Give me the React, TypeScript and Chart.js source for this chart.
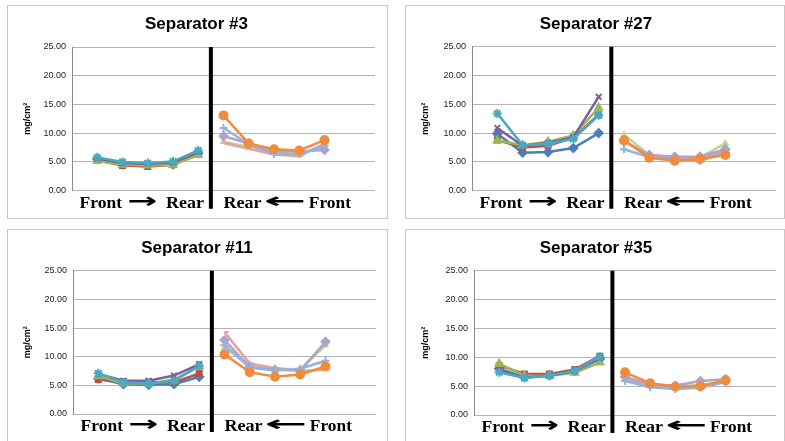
import React, { useEffect, useRef } from 'react';
import { Chart, registerables } from 'chart.js';

Chart.register(...registerables);

// ---- data ----
const POS_FRONT_TO_REAR = [1, 2, 3, 4, 5];
const POS_REAR_TO_FRONT = [6, 7, 8, 9, 10];
const Y_TICKS = [0, 5, 10, 15, 20, 25];
const Y_LABEL = 'mg/cm²';

// rows: blue diamond, red square, green triangle, purple x, aqua star
const SEP3_FRONT_TO_REAR = [
  [5.5, 4.6, 4.5, 4.6, 6.5],
  [5.3, 4.4, 4.2, 4.5, 6.4],
  [5.2, 4.5, 4.4, 4.5, 6.2],
  [5.6, 4.8, 4.7, 4.9, 6.8],
  [5.8, 5.0, 4.8, 5.1, 7.0],
];
// rows: orange circle, light-blue plus, lavender diamond, pink dash, light green
const SEP3_REAR_TO_FRONT = [
  [13.1, 8.2, 7.2, 7.0, 8.8],
  [10.9, 8.1, 6.4, 6.4, 7.8],
  [9.5, 8.2, 6.9, 6.8, 7.1],
  [8.3, 7.3, 6.3, 6.0, 8.2],
  [8.5, 7.6, 6.6, 6.4, 7.6],
];

const SEP27_FRONT_TO_REAR = [
  [9.9, 6.6, 6.7, 7.4, 10.0],
  [8.8, 7.5, 7.8, 9.2, 13.2],
  [8.7, 7.9, 8.5, 9.6, 14.4],
  [10.9, 7.8, 8.3, 9.3, 16.3],
  [13.4, 7.9, 8.1, 9.0, 13.1],
];
const SEP27_REAR_TO_FRONT = [
  [8.7, 5.7, 5.2, 5.5, 6.2],
  [7.2, 5.8, 5.4, 5.2, 6.6],
  [8.6, 6.2, 5.9, 5.9, 7.2],
  [8.8, 5.9, 5.6, 5.7, 6.8],
  [9.7, 6.2, 5.8, 5.8, 8.2],
];

const SEP11_FRONT_TO_REAR = [
  [6.2, 5.2, 5.1, 5.2, 6.5],
  [6.0, 5.6, 5.6, 5.5, 7.1],
  [6.6, 5.3, 5.3, 6.0, 8.3],
  [7.0, 5.8, 5.8, 6.7, 8.7],
  [7.1, 5.5, 5.3, 5.8, 8.4],
];
const SEP11_REAR_TO_FRONT = [
  [10.4, 7.3, 6.5, 6.9, 8.3],
  [12.0, 8.1, 7.6, 7.9, 9.3],
  [12.9, 8.2, 7.7, 7.6, 12.6],
  [14.3, 8.8, 8.0, 7.5, 7.7],
  [11.5, 8.7, 8.0, 7.7, 12.0],
];

const SEP35_FRONT_TO_REAR = [
  [8.0, 6.6, 6.9, 7.6, 9.7],
  [8.6, 7.1, 7.1, 7.9, 10.2],
  [8.9, 6.8, 6.8, 7.3, 9.1],
  [7.7, 6.5, 6.8, 7.6, 9.9],
  [7.4, 6.4, 6.8, 7.7, 10.1],
];
const SEP35_REAR_TO_FRONT = [
  [7.4, 5.5, 4.9, 5.0, 6.0],
  [5.9, 4.8, 4.5, 4.7, 5.7],
  [6.6, 5.3, 5.1, 5.9, 6.2],
  [6.2, 5.0, 4.8, 5.0, 5.9],
  [6.1, 5.2, 5.0, 5.2, 5.9],
];

// ---- styles ----
const SANS = "'Liberation Sans', Arial, Helvetica, sans-serif";
const SERIF = "'Liberation Serif', 'Times New Roman', serif";
const ARROW_FONT = "'DejaVu Sans', 'Liberation Sans', sans-serif";

const FRONT_STYLES = [
  { color: '#4A7EBB', style: 'rectRot', r: 4 },
  { color: '#BE4B48', style: 'rect', r: 3.5 },
  { color: '#98B954', style: 'triangle', r: 4 },
  { color: '#7D60A0', style: 'crossRot', r: 4 },
  { color: '#46AAC5', style: 'star', r: 4.5 },
];
const REAR_STYLES = [
  { color: '#F08C3E', style: 'circle', r: 4 },
  { color: '#93B2DD', style: 'cross', r: 4 },
  { color: '#B2A2CA', style: 'rectRot', r: 4 },
  { color: '#E3A3A1', style: 'dash', r: 4 },
  { color: '#BCD393', style: 'triangle', r: 2.5 },
];

type Box = { x: number; y: number; w: number; h: number };
type Plot = { l: number; r: number; t: number; b: number };

function makeDatasets(rows: number[][], pos: number[], styles: any[], aquaTop: boolean) {
  const order = aquaTop ? [4, 3, 2, 1, 0] : [0, 1, 2, 3, 4];
  return order.map((i) => {
    const st = styles[i];
    return {
      data: rows[i].map((v, k) => ({ x: pos[k], y: v })),
      borderColor: st.color,
      backgroundColor: st.color,
      borderWidth: 2.5,
      pointStyle: st.style,
      pointRadius: st.r,
      pointBorderWidth: 2,
      pointBackgroundColor: st.color,
      pointBorderColor: st.color,
      tension: 0,
    };
  });
}

const sideLabels = {
  id: 'sideLabels',
  afterDraw(chart: any) {
    const { ctx, chartArea } = chart;
    const xs = chart.scales.x;
    const px = (v: number) => xs.getPixelForValue(v);
    // thick divider
    ctx.save();
    ctx.strokeStyle = '#000';
    ctx.lineWidth = 4;
    ctx.beginPath();
    const dx = px(5.5);
    ctx.moveTo(dx, chartArea.top);
    ctx.lineTo(dx, chartArea.bottom + 18);
    ctx.stroke();
    ctx.restore();

    const base = chartArea.bottom + 17;
    const textFont = `bold 17px ${SERIF}`;
    const arrowFont = `bold 21px ${ARROW_FONT}`;
    const pieces: [string, number, number, number, string][] = [
      ['Front', 0.3, 2.0, 0, textFont],
      ['\u2192', 2.27, 3.35, 0, arrowFont],
      ['Rear', 3.72, 5.25, 0, textFont],
      ['Rear', 6.0, 7.53, 0, textFont],
      ['\u2190', 7.69, 9.22, 0, arrowFont],
      ['Front', 9.38, 11.06, 0, textFont],
    ];
    for (const [t, a, b, dy, f] of pieces) {
      const x0 = px(a);
      const x1 = px(b);
      ctx.save();
      ctx.font = f;
      ctx.fillStyle = '#000';
      ctx.textAlign = 'left';
      ctx.textBaseline = 'alphabetic';
      const m = ctx.measureText(t);
      const left = m.actualBoundingBoxLeft || 0;
      const w = (m.actualBoundingBoxRight || m.width) + left;
      ctx.translate(x0, base + dy);
      ctx.scale((x1 - x0) / w, 1);
      ctx.fillText(t, left, 0);
      ctx.restore();
    }
  },
};

function Panel({ title, box, plot, front, rear }: { title: string; box: Box; plot: Plot; front: number[][]; rear: number[][] }) {
  const ref = useRef<HTMLCanvasElement>(null);
  useEffect(() => {
    const cw = box.w - 2;
    const ch = box.h - 2;
    const ox = box.x + 1;
    const oy = box.y + 1;
    const left = plot.l - ox;
    const right = plot.r - ox;
    const top = plot.t - oy;
    const bottom = plot.b - oy;
    const padLeft = 10;
    const titlePadTop = 8;
    const titleSize = 17;
    const datasets = [
      ...makeDatasets(rear, POS_REAR_TO_FRONT, REAR_STYLES, false),
      ...makeDatasets(front, POS_FRONT_TO_REAR, FRONT_STYLES, true),
    ];
    const chart = new Chart(ref.current as HTMLCanvasElement, {
      type: 'line',
      data: { datasets } as any,
      options: {
        animation: false,
        responsive: false,
        maintainAspectRatio: false,
        devicePixelRatio: 1,
        layout: { padding: { left: padLeft, right: cw - right, top: 0, bottom: ch - bottom } },
        plugins: {
          legend: { display: false },
          tooltip: { enabled: false },
          title: {
            display: true,
            text: title,
            color: '#000',
            font: { size: titleSize, weight: 'bold', family: SANS, lineHeight: 1.2 },
            padding: { top: titlePadTop, bottom: top - titlePadTop - titleSize * 1.2 },
          },
        },
        scales: {
          x: { type: 'linear', min: 0, max: 12, display: false },
          y: {
            type: 'linear',
            min: 0,
            max: 25,
            afterFit: (s: any) => {
              s.width = left - padLeft;
            },
            afterBuildTicks: (s: any) => {
              s.ticks = Y_TICKS.map((v) => ({ value: v }));
            },
            ticks: {
              color: '#1a1a1a',
              font: { size: 9, family: SANS },
              padding: 6,
              callback: (v: any) => Number(v).toFixed(2),
            },
            grid: { color: '#b4b4b4', drawTicks: false, lineWidth: 1 },
            border: { display: true, color: '#8c8c8c', width: 1 },
            title: {
              display: true,
              text: Y_LABEL,
              color: '#000',
              font: { size: 9, weight: 'bold', family: SANS },
              padding: { top: 4, bottom: 0 },
            },
          },
        },
      } as any,
      plugins: [sideLabels],
    });
    return () => chart.destroy();
  }, []);
  return (
    <div
      style={{
        position: 'absolute',
        left: box.x,
        top: box.y,
        width: box.w - 2,
        height: box.h - 2,
        border: '1px solid #c8c8c8',
        background: '#fff',
      }}
    >
      <canvas ref={ref} width={box.w - 2} height={box.h - 2} style={{ display: 'block' }} />
    </div>
  );
}

export default function App() {
  useEffect(() => {
    document.documentElement.style.overflow = 'hidden';
    document.body.style.overflow = 'hidden';
  }, []);
  return (
    <div>
      <Panel
        title="Separator #3"
        box={{ x: 7, y: 5, w: 381, h: 214 }}
        plot={{ l: 72, r: 375, t: 47, b: 190.7 }}
        front={SEP3_FRONT_TO_REAR}
        rear={SEP3_REAR_TO_FRONT}
      />
      <Panel
        title="Separator #27"
        box={{ x: 405, y: 5, w: 380, h: 214 }}
        plot={{ l: 472, r: 776, t: 46.7, b: 190.7 }}
        front={SEP27_FRONT_TO_REAR}
        rear={SEP27_REAR_TO_FRONT}
      />
      <Panel
        title="Separator #11"
        box={{ x: 7, y: 229, w: 381, h: 214 }}
        plot={{ l: 73, r: 376, t: 270.7, b: 414 }}
        front={SEP11_FRONT_TO_REAR}
        rear={SEP11_REAR_TO_FRONT}
      />
      <Panel
        title="Separator #35"
        box={{ x: 405, y: 229, w: 380, h: 214 }}
        plot={{ l: 474, r: 776, t: 270.7, b: 415 }}
        front={SEP35_FRONT_TO_REAR}
        rear={SEP35_REAR_TO_FRONT}
      />
    </div>
  );
}
